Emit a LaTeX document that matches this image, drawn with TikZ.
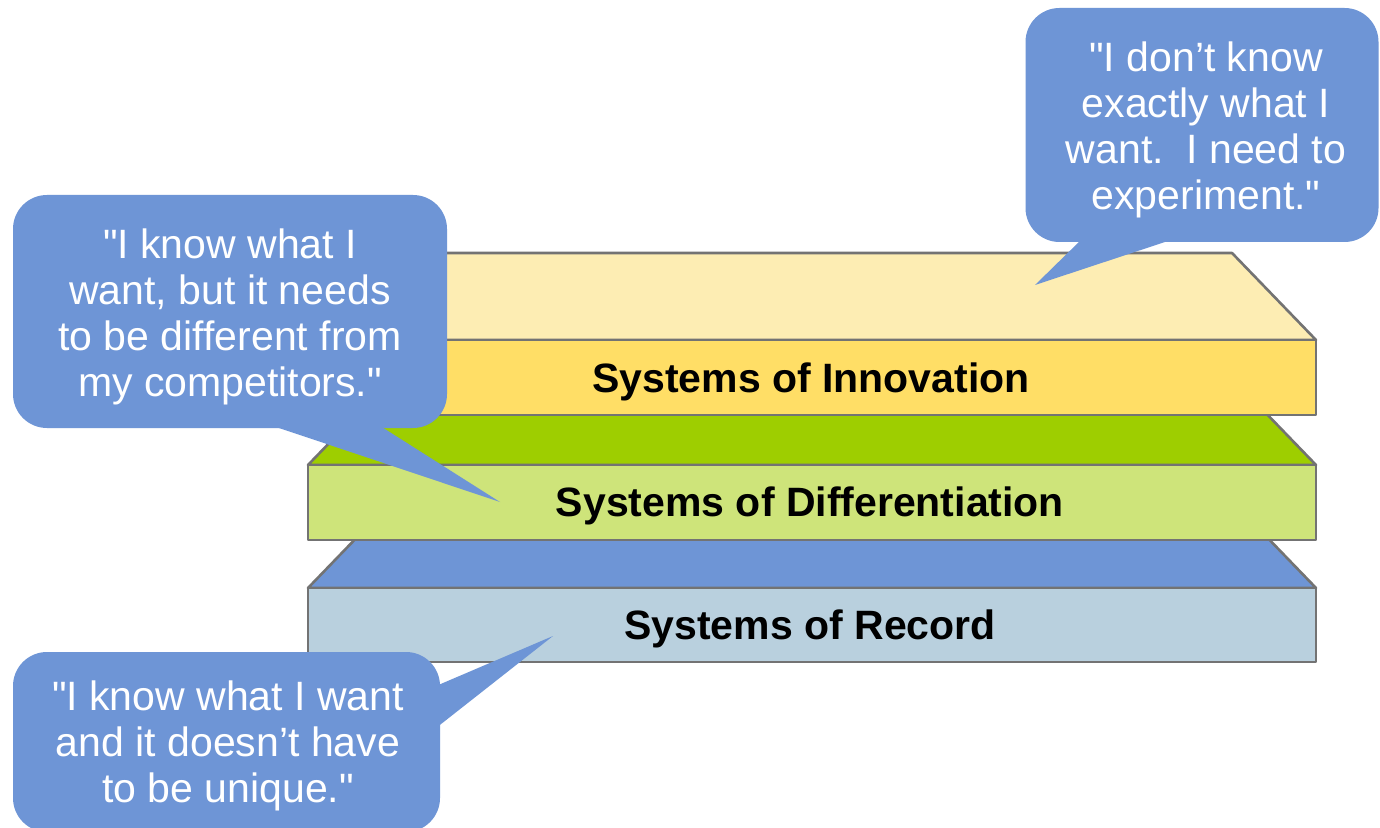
\documentclass[tikz,border=0pt]{standalone}
\usepackage{fontspec}
\setmainfont{Liberation Sans}[Ligatures=TeXOff]
\usetikzlibrary{calc}
\definecolor{innoTop}{HTML}{FDEDB3}
\definecolor{innoFront}{HTML}{FFDE66}
\definecolor{diffTop}{HTML}{9ECE00}
\definecolor{diffFront}{HTML}{CEE47A}
\definecolor{recTop}{HTML}{6E95D6}
\definecolor{recFront}{HTML}{B9D0DE}
\definecolor{bubbleblue}{HTML}{6E95D6}
\definecolor{edgegray}{HTML}{737373}
\tikzset{
  face/.style={draw=edgegray, line width=1.3pt, line join=round},
  layertext/.style={font=\bfseries\fontsize{20.5}{23}\selectfont, text=black, inner sep=0pt},
  bubble/.style={fill=bubbleblue, rounded corners=17pt, inner sep=0pt},
  bubbletext/.style={text=white, align=center, font=\fontsize{20.5}{23}\selectfont, inner sep=0pt},
  pointer/.style={fill=bubbleblue}
}
\begin{document}
\begin{tikzpicture}[x=0.5pt,y=-0.5pt]
\useasboundingbox[fill=white] (0,0) rectangle (1380,828);

% Systems of Record (bottom layer)
\draw[face, fill=recTop] (308,588) -- (392,501) -- (1232,501) -- (1316,588) -- cycle;
\draw[face, fill=recFront] (308,588) rectangle (1316,662);
\node[layertext] (trec) at (810,629) {Systems of Record};

% Systems of Differentiation (middle layer)
\draw[face, fill=diffTop] (308,465) -- (392,378) -- (1232,378) -- (1316,465) -- cycle;
\draw[face, fill=diffFront] (308,465) rectangle (1316,540);
\node[layertext] (tdiff) at (810,506) {Systems of Differentiation};

% Systems of Innovation (top layer)
\draw[face, fill=innoTop] (308,340) -- (392,253) -- (1232,253) -- (1316,340) -- cycle;
\draw[face, fill=innoFront] (308,340) rectangle (1316,415);
\node[layertext] (tinn) at (811,382) {Systems of Innovation};

% Callout: top right
\node[bubble, minimum width=176.5pt, minimum height=117pt] (c1) at (1202,125) {};
\node[bubbletext] (c1t) at (1206,130)
  {"I don’t know\\exactly what I\\want.\ \ I need to\\experiment."};
\coordinate (p1a) at (1083,238);
\coordinate (p1b) at (1177,238);
\coordinate (t1) at (1035,285);
\fill[pointer] (p1a) -- (t1) -- (p1b) -- cycle;

% Callout: middle left
\node[bubble, minimum width=217pt, minimum height=116.5pt] (c2) at (230,311.5) {};
\node[bubbletext] (c2t) at (230,316.5)
  {"I know what I\\want, but it needs\\to be different from\\my competitors."};
\coordinate (p2a) at (267,424);
\coordinate (p2b) at (377,424);
\coordinate (t2) at (500,502);
\fill[pointer] (p2a) -- (t2) -- (p2b) -- cycle;

% Callout: bottom left
\node[bubble, minimum width=213.5pt, minimum height=90pt] (c3) at (226.5,742) {};
\node[bubbletext] (c3t) at (228,746)
  {"I know what I want\\and it doesn’t have\\to be unique."};
\coordinate (p3a) at (436,686);
\coordinate (p3b) at (436,728);
\coordinate (t3) at (553,636);
\fill[pointer] (p3a) -- (t3) -- (p3b) -- cycle;
\end{tikzpicture}
\end{document}
